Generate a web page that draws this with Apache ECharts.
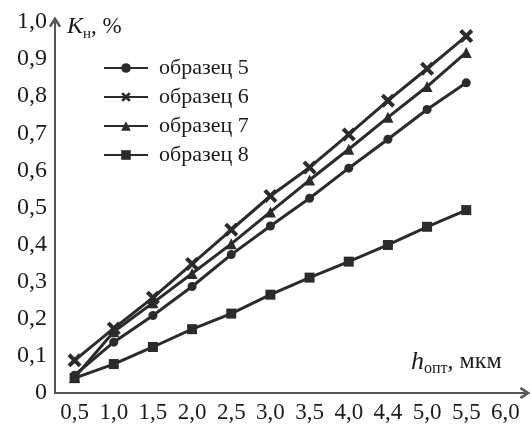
<!DOCTYPE html>
<html>
<head>
<meta charset="utf-8">
<script src="https://cdn.jsdelivr.net/npm/echarts@6/dist/echarts.min.js"></script>
<style>
  html, body { margin: 0; padding: 0; background: #fff; }
  #chart { width: 530px; height: 430px; }
</style>
</head>
<body>
<div id="chart"></div>
<script>
  // подписи оси X (как на рисунке, включая "4,4")
  var categories = ['0,5', '1,0', '1,5', '2,0', '2,5', '3,0', '3,5', '4,0', '4,4', '5,0', '5,5', '6,0']
  var yLabels = ['0', '0,1', '0,2', '0,3', '0,4', '0,5', '0,6', '0,7', '0,8', '0,9', '1,0']

  // значения Kн, %
  var sample5 = [0.048, 0.137, 0.209, 0.287, 0.373, 0.450, 0.525, 0.606, 0.684, 0.764, 0.836]
  var sample6 = [0.088, 0.174, 0.257, 0.348, 0.440, 0.531, 0.608, 0.697, 0.788, 0.874, 0.962]
  var sample7 = [0.042, 0.165, 0.243, 0.322, 0.402, 0.488, 0.574, 0.657, 0.743, 0.826, 0.918]
  var sample8 = [0.040, 0.078, 0.124, 0.172, 0.214, 0.265, 0.311, 0.354, 0.399, 0.448, 0.493]

  var font = 'Liberation Serif'
  var ink = '#2b2b2b'
  var crossPath = 'path://M2,0 L5,3 L8,0 L10,2 L7,5 L10,8 L8,10 L5,7 L2,10 L0,8 L3,5 L0,2 Z'
  // открытая стрелка на концах осей
  var chevron = 'path://M5,0 L10,7.6 L8.4,9 L5,3.9 L1.6,9 L0,7.6 Z'

  function line(name, data, symbol, size) {
    return {
      name: name,
      type: 'line',
      data: data,
      symbol: symbol,
      symbolSize: size,
      showAllSymbol: true,
      lineStyle: { color: ink, width: 3 },
      itemStyle: { color: ink }
    }
  }

  function rich(big, small, rest) {
    return {
      i: { fontFamily: font, fontStyle: 'italic', fontWeight: 'normal', fontSize: big, color: '#1a1a1a', lineHeight: 30, verticalAlign: 'middle' },
      s: { fontFamily: font, fontWeight: 'normal', fontSize: small, color: '#1a1a1a', lineHeight: small, verticalAlign: 'bottom' },
      n: { fontFamily: font, fontWeight: 'normal', fontSize: rest, color: '#1a1a1a', lineHeight: 30, verticalAlign: 'middle' }
    }
  }

  var axisLine = {
    show: true,
    symbol: ['none', chevron],
    symbolSize: [12, 11],
    lineStyle: { color: '#555', width: 2 }
  }

  var chart = echarts.init(document.getElementById('chart'))

  chart.setOption({
    animation: false,
    textStyle: { fontFamily: font },
    title: [
      {
        text: '{i|K}{s|н}{n|, %}',
        left: 67,
        top: 12,
        padding: 0,
        textStyle: { fontWeight: 'normal', rich: rich(24, 15, 23) }
      },
      {
        text: '{i|h}{s|опт}{n|, мкм}',
        left: 411,
        top: 347,
        padding: 0,
        textStyle: { fontWeight: 'normal', rich: rich(26, 16, 24) }
      }
    ],
    legend: {
      orient: 'vertical',
      left: 98,
      top: 50,
      itemWidth: 44,
      itemHeight: 12,
      itemGap: 3,
      textStyle: { fontFamily: font, fontSize: 22, color: '#1a1a1a', lineHeight: 26, padding: [0, 0, 0, 6] },
      data: ['образец 5', 'образец 6', 'образец 7', 'образец 8']
    },
    grid: {
      left: 55,
      top: 22,
      width: 470,
      bottom: 37,
      containLabel: false
    },
    xAxis: {
      type: 'category',
      data: categories,
      boundaryGap: true,
      axisLine: axisLine,
      axisTick: { show: false },
      splitLine: { show: false },
      axisLabel: {
        interval: 0,
        margin: 8,
        fontFamily: font,
        fontSize: 23,
        color: '#1a1a1a'
      }
    },
    yAxis: {
      type: 'value',
      min: 0,
      max: 1,
      interval: 0.1,
      axisLine: axisLine,
      axisTick: { show: false },
      splitLine: { show: false },
      axisLabel: {
        margin: 8,
        fontFamily: font,
        fontSize: 24,
        color: '#1a1a1a',
        formatter: function (v) {
          return yLabels[Math.round(v * 10)]
        }
      }
    },
    series: [
      line('образец 5', sample5, 'circle', 9),
      line('образец 6', sample6, crossPath, 14),
      line('образец 7', sample7, 'triangle', 11),
      line('образец 8', sample8, 'rect', 10)
    ]
  })
</script>
</body>
</html>
